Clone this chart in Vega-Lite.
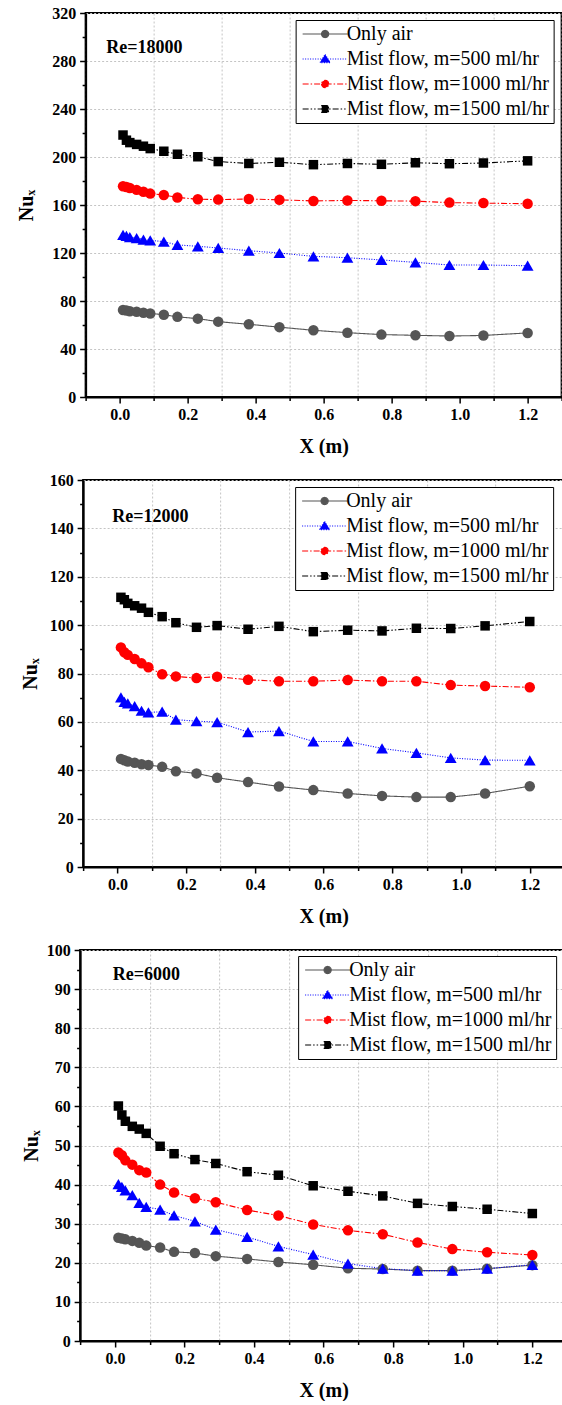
{
  "$schema": "https://vega.github.io/schema/vega-lite/v6.json",
  "background": "white",
  "padding": {"left": 15, "top": 4, "right": 0, "bottom": 0},
  "spacing": 14,
  "center": true,
  "config": {
    "font": "Liberation Serif",
    "view": {"stroke": "black", "strokeWidth": 2},
    "axis": {
      "domainColor": "black", "domainWidth": 2,
      "tickColor": "black", "tickWidth": 1.5,
      "labelFont": "Liberation Serif", "labelFontWeight": "bold", "labelFontSize": 16, "labelColor": "black",
      "titleFont": "Liberation Serif", "titleFontWeight": "bold", "titleFontSize": 20, "titleColor": "black",
      "gridColor": "#c4c4c4", "gridDash": [2, 2], "gridWidth": 1,
      "labelFlush": false, "labelOverlap": false
    },
    "legend": {
      "strokeColor": "black", "fillColor": "white", "padding": 4,
      "labelFont": "Liberation Serif", "labelFontSize": 20, "labelFontWeight": "normal", "labelColor": "black",
      "labelLimit": 400, "rowPadding": 5, "symbolSize": 81, "symbolOffset": 15.5, "labelOffset": 11.5,
      "symbolStrokeWidth": 1.1, "symbolOpacity": 1, "title": null
    }
  },
  "datasets": {
    "re18000": [
      {"x":0.01,"y":72.5,"s":"Only air"},{"x":0.02,"y":72.0,"s":"Only air"},{"x":0.03,"y":71.5,"s":"Only air"},{"x":0.05,"y":71.0,"s":"Only air"},{"x":0.07,"y":70.2,"s":"Only air"},{"x":0.09,"y":69.6,"s":"Only air"},{"x":0.13,"y":68.6,"s":"Only air"},{"x":0.17,"y":66.8,"s":"Only air"},{"x":0.23,"y":65.3,"s":"Only air"},{"x":0.29,"y":62.8,"s":"Only air"},{"x":0.38,"y":60.6,"s":"Only air"},{"x":0.47,"y":58.2,"s":"Only air"},{"x":0.57,"y":55.6,"s":"Only air"},{"x":0.67,"y":53.6,"s":"Only air"},{"x":0.77,"y":52.0,"s":"Only air"},{"x":0.87,"y":51.4,"s":"Only air"},{"x":0.97,"y":50.8,"s":"Only air"},{"x":1.07,"y":51.3,"s":"Only air"},{"x":1.2,"y":53.4,"s":"Only air"},
      {"x":0.01,"y":135.2,"s":"Mist flow, m=500 ml/hr"},{"x":0.02,"y":134.2,"s":"Mist flow, m=500 ml/hr"},{"x":0.03,"y":133.3,"s":"Mist flow, m=500 ml/hr"},{"x":0.05,"y":132.3,"s":"Mist flow, m=500 ml/hr"},{"x":0.07,"y":131.2,"s":"Mist flow, m=500 ml/hr"},{"x":0.09,"y":130.6,"s":"Mist flow, m=500 ml/hr"},{"x":0.13,"y":129.4,"s":"Mist flow, m=500 ml/hr"},{"x":0.17,"y":126.7,"s":"Mist flow, m=500 ml/hr"},{"x":0.23,"y":125.6,"s":"Mist flow, m=500 ml/hr"},{"x":0.29,"y":124.2,"s":"Mist flow, m=500 ml/hr"},{"x":0.38,"y":121.9,"s":"Mist flow, m=500 ml/hr"},{"x":0.47,"y":120.0,"s":"Mist flow, m=500 ml/hr"},{"x":0.57,"y":117.2,"s":"Mist flow, m=500 ml/hr"},{"x":0.67,"y":116.1,"s":"Mist flow, m=500 ml/hr"},{"x":0.77,"y":114.2,"s":"Mist flow, m=500 ml/hr"},{"x":0.87,"y":112.2,"s":"Mist flow, m=500 ml/hr"},{"x":0.97,"y":110.0,"s":"Mist flow, m=500 ml/hr"},{"x":1.07,"y":110.0,"s":"Mist flow, m=500 ml/hr"},{"x":1.2,"y":109.4,"s":"Mist flow, m=500 ml/hr"},
      {"x":0.01,"y":175.6,"s":"Mist flow, m=1000 ml/hr"},{"x":0.02,"y":175.0,"s":"Mist flow, m=1000 ml/hr"},{"x":0.03,"y":174.2,"s":"Mist flow, m=1000 ml/hr"},{"x":0.05,"y":172.6,"s":"Mist flow, m=1000 ml/hr"},{"x":0.07,"y":171.0,"s":"Mist flow, m=1000 ml/hr"},{"x":0.09,"y":169.5,"s":"Mist flow, m=1000 ml/hr"},{"x":0.13,"y":168.3,"s":"Mist flow, m=1000 ml/hr"},{"x":0.17,"y":166.3,"s":"Mist flow, m=1000 ml/hr"},{"x":0.23,"y":164.8,"s":"Mist flow, m=1000 ml/hr"},{"x":0.29,"y":164.5,"s":"Mist flow, m=1000 ml/hr"},{"x":0.38,"y":165.0,"s":"Mist flow, m=1000 ml/hr"},{"x":0.47,"y":164.3,"s":"Mist flow, m=1000 ml/hr"},{"x":0.57,"y":163.4,"s":"Mist flow, m=1000 ml/hr"},{"x":0.67,"y":163.8,"s":"Mist flow, m=1000 ml/hr"},{"x":0.77,"y":163.5,"s":"Mist flow, m=1000 ml/hr"},{"x":0.87,"y":163.2,"s":"Mist flow, m=1000 ml/hr"},{"x":0.97,"y":162.0,"s":"Mist flow, m=1000 ml/hr"},{"x":1.07,"y":161.6,"s":"Mist flow, m=1000 ml/hr"},{"x":1.2,"y":161.0,"s":"Mist flow, m=1000 ml/hr"},
      {"x":0.01,"y":218.3,"s":"Mist flow, m=1500 ml/hr"},{"x":0.02,"y":214.0,"s":"Mist flow, m=1500 ml/hr"},{"x":0.03,"y":212.0,"s":"Mist flow, m=1500 ml/hr"},{"x":0.05,"y":210.5,"s":"Mist flow, m=1500 ml/hr"},{"x":0.07,"y":209.0,"s":"Mist flow, m=1500 ml/hr"},{"x":0.09,"y":207.0,"s":"Mist flow, m=1500 ml/hr"},{"x":0.13,"y":204.8,"s":"Mist flow, m=1500 ml/hr"},{"x":0.17,"y":202.3,"s":"Mist flow, m=1500 ml/hr"},{"x":0.23,"y":200.2,"s":"Mist flow, m=1500 ml/hr"},{"x":0.29,"y":196.2,"s":"Mist flow, m=1500 ml/hr"},{"x":0.38,"y":194.6,"s":"Mist flow, m=1500 ml/hr"},{"x":0.47,"y":195.6,"s":"Mist flow, m=1500 ml/hr"},{"x":0.57,"y":193.6,"s":"Mist flow, m=1500 ml/hr"},{"x":0.67,"y":194.6,"s":"Mist flow, m=1500 ml/hr"},{"x":0.77,"y":193.9,"s":"Mist flow, m=1500 ml/hr"},{"x":0.87,"y":195.2,"s":"Mist flow, m=1500 ml/hr"},{"x":0.97,"y":194.4,"s":"Mist flow, m=1500 ml/hr"},{"x":1.07,"y":195.0,"s":"Mist flow, m=1500 ml/hr"},{"x":1.2,"y":196.8,"s":"Mist flow, m=1500 ml/hr"}
    ],
    "re12000": [
      {"x":0.01,"y":44.7,"s":"Only air"},{"x":0.02,"y":44.1,"s":"Only air"},{"x":0.03,"y":43.6,"s":"Only air"},{"x":0.05,"y":43.1,"s":"Only air"},{"x":0.07,"y":42.5,"s":"Only air"},{"x":0.09,"y":42.2,"s":"Only air"},{"x":0.13,"y":41.4,"s":"Only air"},{"x":0.17,"y":39.6,"s":"Only air"},{"x":0.23,"y":38.7,"s":"Only air"},{"x":0.29,"y":36.9,"s":"Only air"},{"x":0.38,"y":35.1,"s":"Only air"},{"x":0.47,"y":33.3,"s":"Only air"},{"x":0.57,"y":31.8,"s":"Only air"},{"x":0.67,"y":30.4,"s":"Only air"},{"x":0.77,"y":29.4,"s":"Only air"},{"x":0.87,"y":28.9,"s":"Only air"},{"x":0.97,"y":28.9,"s":"Only air"},{"x":1.07,"y":30.4,"s":"Only air"},{"x":1.2,"y":33.4,"s":"Only air"},
      {"x":0.01,"y":70.1,"s":"Mist flow, m=500 ml/hr"},{"x":0.02,"y":68.3,"s":"Mist flow, m=500 ml/hr"},{"x":0.03,"y":67.6,"s":"Mist flow, m=500 ml/hr"},{"x":0.05,"y":66.5,"s":"Mist flow, m=500 ml/hr"},{"x":0.07,"y":64.6,"s":"Mist flow, m=500 ml/hr"},{"x":0.09,"y":63.9,"s":"Mist flow, m=500 ml/hr"},{"x":0.13,"y":64.2,"s":"Mist flow, m=500 ml/hr"},{"x":0.17,"y":60.9,"s":"Mist flow, m=500 ml/hr"},{"x":0.23,"y":60.3,"s":"Mist flow, m=500 ml/hr"},{"x":0.29,"y":59.9,"s":"Mist flow, m=500 ml/hr"},{"x":0.38,"y":55.8,"s":"Mist flow, m=500 ml/hr"},{"x":0.47,"y":56.2,"s":"Mist flow, m=500 ml/hr"},{"x":0.57,"y":51.9,"s":"Mist flow, m=500 ml/hr"},{"x":0.67,"y":51.9,"s":"Mist flow, m=500 ml/hr"},{"x":0.77,"y":49.0,"s":"Mist flow, m=500 ml/hr"},{"x":0.87,"y":47.2,"s":"Mist flow, m=500 ml/hr"},{"x":0.97,"y":45.1,"s":"Mist flow, m=500 ml/hr"},{"x":1.07,"y":44.2,"s":"Mist flow, m=500 ml/hr"},{"x":1.2,"y":44.1,"s":"Mist flow, m=500 ml/hr"},
      {"x":0.01,"y":90.8,"s":"Mist flow, m=1000 ml/hr"},{"x":0.02,"y":88.8,"s":"Mist flow, m=1000 ml/hr"},{"x":0.03,"y":87.7,"s":"Mist flow, m=1000 ml/hr"},{"x":0.05,"y":86.0,"s":"Mist flow, m=1000 ml/hr"},{"x":0.07,"y":84.2,"s":"Mist flow, m=1000 ml/hr"},{"x":0.09,"y":82.6,"s":"Mist flow, m=1000 ml/hr"},{"x":0.13,"y":79.7,"s":"Mist flow, m=1000 ml/hr"},{"x":0.17,"y":78.8,"s":"Mist flow, m=1000 ml/hr"},{"x":0.23,"y":78.1,"s":"Mist flow, m=1000 ml/hr"},{"x":0.29,"y":78.7,"s":"Mist flow, m=1000 ml/hr"},{"x":0.38,"y":77.4,"s":"Mist flow, m=1000 ml/hr"},{"x":0.47,"y":76.8,"s":"Mist flow, m=1000 ml/hr"},{"x":0.57,"y":76.8,"s":"Mist flow, m=1000 ml/hr"},{"x":0.67,"y":77.3,"s":"Mist flow, m=1000 ml/hr"},{"x":0.77,"y":76.8,"s":"Mist flow, m=1000 ml/hr"},{"x":0.87,"y":76.8,"s":"Mist flow, m=1000 ml/hr"},{"x":0.97,"y":75.2,"s":"Mist flow, m=1000 ml/hr"},{"x":1.07,"y":74.8,"s":"Mist flow, m=1000 ml/hr"},{"x":1.2,"y":74.3,"s":"Mist flow, m=1000 ml/hr"},
      {"x":0.01,"y":111.5,"s":"Mist flow, m=1500 ml/hr"},{"x":0.02,"y":110.5,"s":"Mist flow, m=1500 ml/hr"},{"x":0.03,"y":109.0,"s":"Mist flow, m=1500 ml/hr"},{"x":0.05,"y":108.0,"s":"Mist flow, m=1500 ml/hr"},{"x":0.07,"y":107.0,"s":"Mist flow, m=1500 ml/hr"},{"x":0.09,"y":105.3,"s":"Mist flow, m=1500 ml/hr"},{"x":0.13,"y":103.5,"s":"Mist flow, m=1500 ml/hr"},{"x":0.17,"y":101.0,"s":"Mist flow, m=1500 ml/hr"},{"x":0.23,"y":99.1,"s":"Mist flow, m=1500 ml/hr"},{"x":0.29,"y":99.8,"s":"Mist flow, m=1500 ml/hr"},{"x":0.38,"y":98.3,"s":"Mist flow, m=1500 ml/hr"},{"x":0.47,"y":99.5,"s":"Mist flow, m=1500 ml/hr"},{"x":0.57,"y":97.3,"s":"Mist flow, m=1500 ml/hr"},{"x":0.67,"y":97.9,"s":"Mist flow, m=1500 ml/hr"},{"x":0.77,"y":97.6,"s":"Mist flow, m=1500 ml/hr"},{"x":0.87,"y":98.7,"s":"Mist flow, m=1500 ml/hr"},{"x":0.97,"y":98.6,"s":"Mist flow, m=1500 ml/hr"},{"x":1.07,"y":99.7,"s":"Mist flow, m=1500 ml/hr"},{"x":1.2,"y":101.5,"s":"Mist flow, m=1500 ml/hr"}
    ],
    "re6000": [
      {"x":0.01,"y":26.4,"s":"Only air"},{"x":0.02,"y":26.2,"s":"Only air"},{"x":0.03,"y":26.0,"s":"Only air"},{"x":0.05,"y":25.6,"s":"Only air"},{"x":0.07,"y":25.1,"s":"Only air"},{"x":0.09,"y":24.4,"s":"Only air"},{"x":0.13,"y":23.9,"s":"Only air"},{"x":0.17,"y":22.8,"s":"Only air"},{"x":0.23,"y":22.5,"s":"Only air"},{"x":0.29,"y":21.7,"s":"Only air"},{"x":0.38,"y":21.0,"s":"Only air"},{"x":0.47,"y":20.2,"s":"Only air"},{"x":0.57,"y":19.5,"s":"Only air"},{"x":0.67,"y":18.6,"s":"Only air"},{"x":0.77,"y":18.4,"s":"Only air"},{"x":0.87,"y":18.0,"s":"Only air"},{"x":0.97,"y":18.0,"s":"Only air"},{"x":1.07,"y":18.5,"s":"Only air"},{"x":1.2,"y":19.4,"s":"Only air"},
      {"x":0.01,"y":40.1,"s":"Mist flow, m=500 ml/hr"},{"x":0.02,"y":39.4,"s":"Mist flow, m=500 ml/hr"},{"x":0.03,"y":38.5,"s":"Mist flow, m=500 ml/hr"},{"x":0.05,"y":37.3,"s":"Mist flow, m=500 ml/hr"},{"x":0.07,"y":35.3,"s":"Mist flow, m=500 ml/hr"},{"x":0.09,"y":34.3,"s":"Mist flow, m=500 ml/hr"},{"x":0.13,"y":33.6,"s":"Mist flow, m=500 ml/hr"},{"x":0.17,"y":32.1,"s":"Mist flow, m=500 ml/hr"},{"x":0.23,"y":30.6,"s":"Mist flow, m=500 ml/hr"},{"x":0.29,"y":28.5,"s":"Mist flow, m=500 ml/hr"},{"x":0.38,"y":26.6,"s":"Mist flow, m=500 ml/hr"},{"x":0.47,"y":24.2,"s":"Mist flow, m=500 ml/hr"},{"x":0.57,"y":22.1,"s":"Mist flow, m=500 ml/hr"},{"x":0.67,"y":19.8,"s":"Mist flow, m=500 ml/hr"},{"x":0.77,"y":18.5,"s":"Mist flow, m=500 ml/hr"},{"x":0.87,"y":18.0,"s":"Mist flow, m=500 ml/hr"},{"x":0.97,"y":18.0,"s":"Mist flow, m=500 ml/hr"},{"x":1.07,"y":18.5,"s":"Mist flow, m=500 ml/hr"},{"x":1.2,"y":19.5,"s":"Mist flow, m=500 ml/hr"},
      {"x":0.01,"y":48.2,"s":"Mist flow, m=1000 ml/hr"},{"x":0.02,"y":47.5,"s":"Mist flow, m=1000 ml/hr"},{"x":0.03,"y":46.2,"s":"Mist flow, m=1000 ml/hr"},{"x":0.05,"y":45.1,"s":"Mist flow, m=1000 ml/hr"},{"x":0.07,"y":43.7,"s":"Mist flow, m=1000 ml/hr"},{"x":0.09,"y":43.1,"s":"Mist flow, m=1000 ml/hr"},{"x":0.13,"y":40.0,"s":"Mist flow, m=1000 ml/hr"},{"x":0.17,"y":38.0,"s":"Mist flow, m=1000 ml/hr"},{"x":0.23,"y":36.5,"s":"Mist flow, m=1000 ml/hr"},{"x":0.29,"y":35.5,"s":"Mist flow, m=1000 ml/hr"},{"x":0.38,"y":33.5,"s":"Mist flow, m=1000 ml/hr"},{"x":0.47,"y":32.1,"s":"Mist flow, m=1000 ml/hr"},{"x":0.57,"y":29.8,"s":"Mist flow, m=1000 ml/hr"},{"x":0.67,"y":28.3,"s":"Mist flow, m=1000 ml/hr"},{"x":0.77,"y":27.3,"s":"Mist flow, m=1000 ml/hr"},{"x":0.87,"y":25.2,"s":"Mist flow, m=1000 ml/hr"},{"x":0.97,"y":23.5,"s":"Mist flow, m=1000 ml/hr"},{"x":1.07,"y":22.7,"s":"Mist flow, m=1000 ml/hr"},{"x":1.2,"y":22.0,"s":"Mist flow, m=1000 ml/hr"},
      {"x":0.01,"y":60.1,"s":"Mist flow, m=1500 ml/hr"},{"x":0.02,"y":57.8,"s":"Mist flow, m=1500 ml/hr"},{"x":0.03,"y":56.2,"s":"Mist flow, m=1500 ml/hr"},{"x":0.05,"y":54.9,"s":"Mist flow, m=1500 ml/hr"},{"x":0.07,"y":54.2,"s":"Mist flow, m=1500 ml/hr"},{"x":0.09,"y":53.1,"s":"Mist flow, m=1500 ml/hr"},{"x":0.13,"y":49.8,"s":"Mist flow, m=1500 ml/hr"},{"x":0.17,"y":47.9,"s":"Mist flow, m=1500 ml/hr"},{"x":0.23,"y":46.4,"s":"Mist flow, m=1500 ml/hr"},{"x":0.29,"y":45.4,"s":"Mist flow, m=1500 ml/hr"},{"x":0.38,"y":43.3,"s":"Mist flow, m=1500 ml/hr"},{"x":0.47,"y":42.4,"s":"Mist flow, m=1500 ml/hr"},{"x":0.57,"y":39.7,"s":"Mist flow, m=1500 ml/hr"},{"x":0.67,"y":38.3,"s":"Mist flow, m=1500 ml/hr"},{"x":0.77,"y":37.1,"s":"Mist flow, m=1500 ml/hr"},{"x":0.87,"y":35.2,"s":"Mist flow, m=1500 ml/hr"},{"x":0.97,"y":34.4,"s":"Mist flow, m=1500 ml/hr"},{"x":1.07,"y":33.7,"s":"Mist flow, m=1500 ml/hr"},{"x":1.2,"y":32.6,"s":"Mist flow, m=1500 ml/hr"}
    ]
  },
  "resolve": {
    "scale": {"fill": "independent", "stroke": "independent", "shape": "independent", "strokeDash": "independent"},
    "legend": {"fill": "independent", "stroke": "independent", "shape": "independent", "strokeDash": "independent"}
  },
  "vconcat": [
    {
      "width": 476, "height": 384,
      "encoding": {
        "x": {"field": "x", "type": "quantitative", "scale": {"domain": [-0.1, 1.3], "nice": false, "zero": false},
          "axis": {"title": "X (m)", "titlePadding": 14, "labelPadding": 3,
            "values": [-0.1, 0, 0.1, 0.2, 0.3, 0.4, 0.5, 0.6, 0.7, 0.8, 0.9, 1, 1.1, 1.2, 1.3],
            "labelExpr": "round(datum.value*10) % 2 === 0 ? format(datum.value, '.1f') : ''",
            "tickSize": {"condition": {"test": "round(datum.value*10) % 2 !== 0", "value": 3.5}, "value": 6},
            "gridOpacity": {"condition": {"test": "round(datum.value*10) % 2 !== 0", "value": 1}, "value": 0}}},
        "y": {"field": "y", "type": "quantitative", "scale": {"domain": [0, 320], "nice": false},
          "axis": {"title": "Nuₓ", "titlePadding": 15.5, "labelPadding": 4,
            "values": [0, 20, 40, 60, 80, 100, 120, 140, 160, 180, 200, 220, 240, 260, 280, 300, 320],
            "labelExpr": "datum.value % 40 === 0 ? datum.label : ''",
            "tickSize": {"condition": {"test": "datum.value % 40 !== 0", "value": 3.5}, "value": 6},
            "gridOpacity": {"condition": {"test": "datum.value % 40 !== 0", "value": 0}, "value": 1}}}
      },
      "layer": [
        {
          "data": {"name": "re18000"}, "transform": [{"filter": "false"}],
          "mark": {"type": "point", "filled": true, "size": 81, "strokeWidth": 1.1},
          "encoding": {
            "fill": {"field": "s", "type": "nominal",
              "scale": {"domain": ["Only air", "Mist flow, m=500 ml/hr", "Mist flow, m=1000 ml/hr", "Mist flow, m=1500 ml/hr"], "range": ["#555555", "#0000ff", "#ff0000", "#000000"]},
              "legend": {"orient": "none", "legendX": 210, "legendY": 7}},
            "stroke": {"field": "s", "type": "nominal",
              "scale": {"domain": ["Only air", "Mist flow, m=500 ml/hr", "Mist flow, m=1000 ml/hr", "Mist flow, m=1500 ml/hr"], "range": ["#555555", "#0000ff", "#ff0000", "#000000"]},
              "legend": {"orient": "none", "legendX": 210, "legendY": 7}},
            "shape": {"field": "s", "type": "nominal",
              "scale": {"domain": ["Only air", "Mist flow, m=500 ml/hr", "Mist flow, m=1000 ml/hr", "Mist flow, m=1500 ml/hr"], "range": ["M-5,0H5M-0.8,0A0.8,0.8,0,1,0,0.8,0A0.8,0.8,0,1,0,-0.8,0Z", "M-5,0H5M0,-1L1.15,0.8L-1.15,0.8Z", "M-5,0H5M-0.8,0A0.8,0.8,0,1,0,0.8,0A0.8,0.8,0,1,0,-0.8,0Z", "M-5,0H5M-0.75,-0.75H0.75V0.75H-0.75Z"]},
              "legend": {"orient": "none", "legendX": 210, "legendY": 7}},
            "strokeDash": {"field": "s", "type": "nominal",
              "scale": {"domain": ["Only air", "Mist flow, m=500 ml/hr", "Mist flow, m=1000 ml/hr", "Mist flow, m=1500 ml/hr"], "range": [[1, 0], [1, 1.5], [6, 2, 1.5, 2], [6, 2, 1.5, 2, 1.5, 2]]},
              "legend": {"orient": "none", "legendX": 210, "legendY": 7}}
          }
        },
        {
          "data": {"name": "re18000"},
          "mark": {"type": "line", "strokeWidth": 1.1},
          "encoding": {
            "stroke": {"field": "s", "type": "nominal",
              "scale": {"domain": ["Only air", "Mist flow, m=500 ml/hr", "Mist flow, m=1000 ml/hr", "Mist flow, m=1500 ml/hr"], "range": ["#555555", "#0000ff", "#ff0000", "#000000"]},
              "legend": {"orient": "none", "legendX": 210, "legendY": 7}},
            "strokeDash": {"field": "s", "type": "nominal",
              "scale": {"domain": ["Only air", "Mist flow, m=500 ml/hr", "Mist flow, m=1000 ml/hr", "Mist flow, m=1500 ml/hr"], "range": [[1, 0], [1, 1.5], [6, 2, 1.5, 2], [6, 2, 1.5, 2, 1.5, 2]]},
              "legend": {"orient": "none", "legendX": 210, "legendY": 7}}
          }
        },
        {"data": {"name": "re18000"}, "transform": [{"filter": "datum.s === 'Only air'"}],
         "mark": {"type": "point", "shape": "circle", "filled": true, "opacity": 1, "size": 110, "color": "#555555"}},
        {"data": {"name": "re18000"}, "transform": [{"filter": "datum.s === 'Mist flow, m=500 ml/hr'"}],
         "mark": {"type": "point", "shape": "triangle-up", "filled": true, "opacity": 1, "size": 140, "color": "#0000ff"}},
        {"data": {"name": "re18000"}, "transform": [{"filter": "datum.s === 'Mist flow, m=1000 ml/hr'"}],
         "mark": {"type": "point", "shape": "circle", "filled": true, "opacity": 1, "size": 110, "color": "#ff0000"}},
        {"data": {"name": "re18000"}, "transform": [{"filter": "datum.s === 'Mist flow, m=1500 ml/hr'"}],
         "mark": {"type": "point", "shape": "square", "filled": true, "opacity": 1, "size": 90, "color": "#000000"}},
        {
          "data": {"values": [{"t": "Re=18000", "x": -0.039, "y": 291}]},
          "mark": {"type": "text", "align": "left", "baseline": "middle", "font": "Liberation Serif", "fontSize": 18, "fontWeight": "bold", "color": "black"},
          "encoding": {"text": {"field": "t"}}
        }
      ]
    },
    {
      "width": 481, "height": 387,
      "encoding": {
        "x": {"field": "x", "type": "quantitative", "scale": {"domain": [-0.1, 1.3], "nice": false, "zero": false},
          "axis": {"title": "X (m)", "titlePadding": 14, "labelPadding": 3,
            "values": [-0.1, 0, 0.1, 0.2, 0.3, 0.4, 0.5, 0.6, 0.7, 0.8, 0.9, 1, 1.1, 1.2, 1.3],
            "labelExpr": "round(datum.value*10) % 2 === 0 ? format(datum.value, '.1f') : ''",
            "tickSize": {"condition": {"test": "round(datum.value*10) % 2 !== 0", "value": 3.5}, "value": 6},
            "gridOpacity": {"condition": {"test": "round(datum.value*10) % 2 !== 0", "value": 1}, "value": 0}}},
        "y": {"field": "y", "type": "quantitative", "scale": {"domain": [0, 160], "nice": false},
          "axis": {"title": "Nuₓ", "titlePadding": 8.5, "labelPadding": 4,
            "values": [0, 10, 20, 30, 40, 50, 60, 70, 80, 90, 100, 110, 120, 130, 140, 150, 160],
            "labelExpr": "datum.value % 20 === 0 ? datum.label : ''",
            "tickSize": {"condition": {"test": "datum.value % 20 !== 0", "value": 3.5}, "value": 6},
            "gridOpacity": {"condition": {"test": "datum.value % 20 !== 0", "value": 0}, "value": 1}}}
      },
      "layer": [
        {
          "data": {"name": "re12000"}, "transform": [{"filter": "false"}],
          "mark": {"type": "point", "filled": true, "size": 81, "strokeWidth": 1.1},
          "encoding": {
            "fill": {"field": "s", "type": "nominal",
              "scale": {"domain": ["Only air", "Mist flow, m=500 ml/hr", "Mist flow, m=1000 ml/hr", "Mist flow, m=1500 ml/hr"], "range": ["#555555", "#0000ff", "#ff0000", "#000000"]},
              "legend": {"orient": "none", "legendX": 212, "legendY": 7}},
            "stroke": {"field": "s", "type": "nominal",
              "scale": {"domain": ["Only air", "Mist flow, m=500 ml/hr", "Mist flow, m=1000 ml/hr", "Mist flow, m=1500 ml/hr"], "range": ["#555555", "#0000ff", "#ff0000", "#000000"]},
              "legend": {"orient": "none", "legendX": 212, "legendY": 7}},
            "shape": {"field": "s", "type": "nominal",
              "scale": {"domain": ["Only air", "Mist flow, m=500 ml/hr", "Mist flow, m=1000 ml/hr", "Mist flow, m=1500 ml/hr"], "range": ["M-5,0H5M-0.8,0A0.8,0.8,0,1,0,0.8,0A0.8,0.8,0,1,0,-0.8,0Z", "M-5,0H5M0,-1L1.15,0.8L-1.15,0.8Z", "M-5,0H5M-0.8,0A0.8,0.8,0,1,0,0.8,0A0.8,0.8,0,1,0,-0.8,0Z", "M-5,0H5M-0.75,-0.75H0.75V0.75H-0.75Z"]},
              "legend": {"orient": "none", "legendX": 212, "legendY": 7}},
            "strokeDash": {"field": "s", "type": "nominal",
              "scale": {"domain": ["Only air", "Mist flow, m=500 ml/hr", "Mist flow, m=1000 ml/hr", "Mist flow, m=1500 ml/hr"], "range": [[1, 0], [1, 1.5], [6, 2, 1.5, 2], [6, 2, 1.5, 2, 1.5, 2]]},
              "legend": {"orient": "none", "legendX": 212, "legendY": 7}}
          }
        },
        {
          "data": {"name": "re12000"},
          "mark": {"type": "line", "strokeWidth": 1.1},
          "encoding": {
            "stroke": {"field": "s", "type": "nominal",
              "scale": {"domain": ["Only air", "Mist flow, m=500 ml/hr", "Mist flow, m=1000 ml/hr", "Mist flow, m=1500 ml/hr"], "range": ["#555555", "#0000ff", "#ff0000", "#000000"]},
              "legend": {"orient": "none", "legendX": 212, "legendY": 7}},
            "strokeDash": {"field": "s", "type": "nominal",
              "scale": {"domain": ["Only air", "Mist flow, m=500 ml/hr", "Mist flow, m=1000 ml/hr", "Mist flow, m=1500 ml/hr"], "range": [[1, 0], [1, 1.5], [6, 2, 1.5, 2], [6, 2, 1.5, 2, 1.5, 2]]},
              "legend": {"orient": "none", "legendX": 212, "legendY": 7}}
          }
        },
        {"data": {"name": "re12000"}, "transform": [{"filter": "datum.s === 'Only air'"}],
         "mark": {"type": "point", "shape": "circle", "filled": true, "opacity": 1, "size": 110, "color": "#555555"}},
        {"data": {"name": "re12000"}, "transform": [{"filter": "datum.s === 'Mist flow, m=500 ml/hr'"}],
         "mark": {"type": "point", "shape": "triangle-up", "filled": true, "opacity": 1, "size": 140, "color": "#0000ff"}},
        {"data": {"name": "re12000"}, "transform": [{"filter": "datum.s === 'Mist flow, m=1000 ml/hr'"}],
         "mark": {"type": "point", "shape": "circle", "filled": true, "opacity": 1, "size": 110, "color": "#ff0000"}},
        {"data": {"name": "re12000"}, "transform": [{"filter": "datum.s === 'Mist flow, m=1500 ml/hr'"}],
         "mark": {"type": "point", "shape": "square", "filled": true, "opacity": 1, "size": 90, "color": "#000000"}},
        {
          "data": {"values": [{"t": "Re=12000", "x": -0.015, "y": 144.8}]},
          "mark": {"type": "text", "align": "left", "baseline": "middle", "font": "Liberation Serif", "fontSize": 18, "fontWeight": "bold", "color": "black"},
          "encoding": {"text": {"field": "t"}}
        }
      ]
    },
    {
      "width": 487, "height": 391,
      "encoding": {
        "x": {"field": "x", "type": "quantitative", "scale": {"domain": [-0.1, 1.3], "nice": false, "zero": false},
          "axis": {"title": "X (m)", "titlePadding": 14, "labelPadding": 3,
            "values": [-0.1, 0, 0.1, 0.2, 0.3, 0.4, 0.5, 0.6, 0.7, 0.8, 0.9, 1, 1.1, 1.2, 1.3],
            "labelExpr": "round(datum.value*10) % 2 === 0 ? format(datum.value, '.1f') : ''",
            "tickSize": {"condition": {"test": "round(datum.value*10) % 2 !== 0", "value": 3.5}, "value": 6},
            "gridOpacity": {"condition": {"test": "round(datum.value*10) % 2 !== 0", "value": 1}, "value": 0}}},
        "y": {"field": "y", "type": "quantitative", "scale": {"domain": [0, 100], "nice": false},
          "axis": {"title": "Nuₓ", "titlePadding": 5, "labelPadding": 4,
            "values": [0, 5, 10, 15, 20, 25, 30, 35, 40, 45, 50, 55, 60, 65, 70, 75, 80, 85, 90, 95, 100],
            "labelExpr": "datum.value % 10 === 0 ? datum.label : ''",
            "tickSize": {"condition": {"test": "datum.value % 10 !== 0", "value": 3.5}, "value": 6},
            "gridOpacity": {"condition": {"test": "datum.value % 10 !== 0", "value": 0}, "value": 1}}}
      },
      "layer": [
        {
          "data": {"name": "re6000"}, "transform": [{"filter": "false"}],
          "mark": {"type": "point", "filled": true, "size": 81, "strokeWidth": 1.1},
          "encoding": {
            "fill": {"field": "s", "type": "nominal",
              "scale": {"domain": ["Only air", "Mist flow, m=500 ml/hr", "Mist flow, m=1000 ml/hr", "Mist flow, m=1500 ml/hr"], "range": ["#555555", "#0000ff", "#ff0000", "#000000"]},
              "legend": {"orient": "none", "legendX": 218, "legendY": 6}},
            "stroke": {"field": "s", "type": "nominal",
              "scale": {"domain": ["Only air", "Mist flow, m=500 ml/hr", "Mist flow, m=1000 ml/hr", "Mist flow, m=1500 ml/hr"], "range": ["#555555", "#0000ff", "#ff0000", "#000000"]},
              "legend": {"orient": "none", "legendX": 218, "legendY": 6}},
            "shape": {"field": "s", "type": "nominal",
              "scale": {"domain": ["Only air", "Mist flow, m=500 ml/hr", "Mist flow, m=1000 ml/hr", "Mist flow, m=1500 ml/hr"], "range": ["M-5,0H5M-0.8,0A0.8,0.8,0,1,0,0.8,0A0.8,0.8,0,1,0,-0.8,0Z", "M-5,0H5M0,-1L1.15,0.8L-1.15,0.8Z", "M-5,0H5M-0.8,0A0.8,0.8,0,1,0,0.8,0A0.8,0.8,0,1,0,-0.8,0Z", "M-5,0H5M-0.75,-0.75H0.75V0.75H-0.75Z"]},
              "legend": {"orient": "none", "legendX": 218, "legendY": 6}},
            "strokeDash": {"field": "s", "type": "nominal",
              "scale": {"domain": ["Only air", "Mist flow, m=500 ml/hr", "Mist flow, m=1000 ml/hr", "Mist flow, m=1500 ml/hr"], "range": [[1, 0], [1, 1.5], [6, 2, 1.5, 2], [6, 2, 1.5, 2, 1.5, 2]]},
              "legend": {"orient": "none", "legendX": 218, "legendY": 6}}
          }
        },
        {
          "data": {"name": "re6000"},
          "mark": {"type": "line", "strokeWidth": 1.1},
          "encoding": {
            "stroke": {"field": "s", "type": "nominal",
              "scale": {"domain": ["Only air", "Mist flow, m=500 ml/hr", "Mist flow, m=1000 ml/hr", "Mist flow, m=1500 ml/hr"], "range": ["#555555", "#0000ff", "#ff0000", "#000000"]},
              "legend": {"orient": "none", "legendX": 218, "legendY": 6}},
            "strokeDash": {"field": "s", "type": "nominal",
              "scale": {"domain": ["Only air", "Mist flow, m=500 ml/hr", "Mist flow, m=1000 ml/hr", "Mist flow, m=1500 ml/hr"], "range": [[1, 0], [1, 1.5], [6, 2, 1.5, 2], [6, 2, 1.5, 2, 1.5, 2]]},
              "legend": {"orient": "none", "legendX": 218, "legendY": 6}}
          }
        },
        {"data": {"name": "re6000"}, "transform": [{"filter": "datum.s === 'Only air'"}],
         "mark": {"type": "point", "shape": "circle", "filled": true, "opacity": 1, "size": 110, "color": "#555555"}},
        {"data": {"name": "re6000"}, "transform": [{"filter": "datum.s === 'Mist flow, m=500 ml/hr'"}],
         "mark": {"type": "point", "shape": "triangle-up", "filled": true, "opacity": 1, "size": 140, "color": "#0000ff"}},
        {"data": {"name": "re6000"}, "transform": [{"filter": "datum.s === 'Mist flow, m=1000 ml/hr'"}],
         "mark": {"type": "point", "shape": "circle", "filled": true, "opacity": 1, "size": 110, "color": "#ff0000"}},
        {"data": {"name": "re6000"}, "transform": [{"filter": "datum.s === 'Mist flow, m=1500 ml/hr'"}],
         "mark": {"type": "point", "shape": "square", "filled": true, "opacity": 1, "size": 90, "color": "#000000"}},
        {
          "data": {"values": [{"t": "Re=6000", "x": -0.006, "y": 93.6}]},
          "mark": {"type": "text", "align": "left", "baseline": "middle", "font": "Liberation Serif", "fontSize": 18, "fontWeight": "bold", "color": "black"},
          "encoding": {"text": {"field": "t"}}
        }
      ]
    }
  ]
}
